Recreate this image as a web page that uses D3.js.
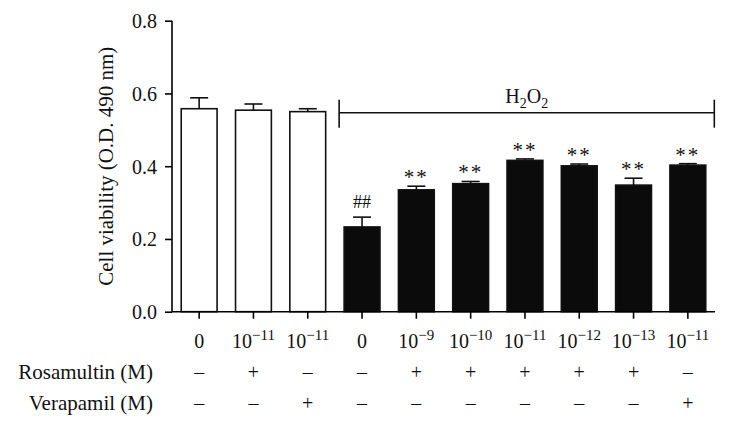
<!DOCTYPE html>
<html>
<head>
<meta charset="utf-8">
<script src="https://cdn.jsdelivr.net/npm/d3@7"></script>
<style>
  body { margin: 0; background: #fff; }
  svg text { font-family: "Liberation Serif", "DejaVu Serif", serif; fill: #111; }
</style>
</head>
<body>
<div id="chart"></div>
<script>
// concentration labels: [base, exponent] (exponent null -> plain text)
var concLabels = [["0", null], ["10", "\u221211"], ["10", "\u221211"], ["0", null], ["10", "\u22129"],
                  ["10", "\u221210"], ["10", "\u221211"], ["10", "\u221212"], ["10", "\u221213"], ["10", "\u221211"]];
var means  = [0.558, 0.554, 0.550, 0.233, 0.335, 0.352, 0.416, 0.401, 0.348, 0.403];
var errs   = [0.030, 0.017, 0.008, 0.027, 0.010, 0.006, 0.004, 0.005, 0.019, 0.004];
var h2o2   = [false, false, false, true, true, true, true, true, true, true];
var marks  = ["", "", "", "##", "**", "**", "**", "**", "**", "**"];
var rosamultin = ["\u2013", "+", "\u2013", "\u2013", "+", "+", "+", "+", "+", "\u2013"];
var verapamil  = ["\u2013", "\u2013", "+", "\u2013", "\u2013", "\u2013", "\u2013", "\u2013", "\u2013", "+"];
var yTicks = [0, 0.2, 0.4, 0.6, 0.8];

var W = 729, H = 426;
var margin = {left: 172, right: 14, top: 20.7, bottom: 114.3};

var svg = d3.select("#chart").append("svg")
  .attr("width", W).attr("height", H);

var idx = d3.range(means.length);
var x = d3.scaleBand().domain(idx).range([margin.left, W - margin.right])
  .paddingInner(0.34).paddingOuter(0.17);
var y = d3.scaleLinear().domain([0, 0.8]).range([H - margin.bottom, margin.top]);

// bars
svg.append("g").selectAll("rect").data(idx).enter().append("rect")
  .attr("x", function(i){ return x(i); })
  .attr("y", function(i){ return y(means[i]); })
  .attr("width", x.bandwidth())
  .attr("height", function(i){ return y(0) - y(means[i]); })
  .attr("fill", function(i){ return h2o2[i] ? "#0b0b0b" : "#fff"; })
  .attr("stroke", "#111").attr("stroke-width", 1.6);

// error bars (upper only)
var eb = svg.append("g").attr("stroke", "#111").attr("stroke-width", 1.6);
idx.forEach(function(i){
  var cx = x(i) + x.bandwidth() / 2;
  eb.append("line").attr("x1", cx).attr("x2", cx)
    .attr("y1", y(means[i])).attr("y2", y(means[i] + errs[i]));
  eb.append("line").attr("x1", cx - 9).attr("x2", cx + 9)
    .attr("y1", y(means[i] + errs[i])).attr("y2", y(means[i] + errs[i]));
});

// significance marks
svg.append("g").selectAll("text").data(idx.filter(function(i){ return marks[i]; })).enter()
  .append("text")
  .attr("x", function(i){ return x(i) + x.bandwidth() / 2; })
  .attr("y", function(i){ return y(means[i] + errs[i]) - (marks[i] == "##" ? 9 : 2); })
  .attr("text-anchor", "middle")
  .style("font-size", function(i){ return marks[i] == "##" ? "18px" : "21px"; })
  .style("letter-spacing", function(i){ return marks[i] == "##" ? "0px" : "2px"; })
  .text(function(i){ return marks[i]; });

// y axis
var yAxis = svg.append("g")
  .attr("transform", "translate(" + margin.left + ",0)")
  .call(d3.axisLeft(y).tickValues(yTicks).tickFormat(d3.format(".1f")).tickSize(7).tickPadding(8));
yAxis.select(".domain").attr("stroke-width", 1.6).attr("d", "M0," + y(0.8) + "V" + y(0));
yAxis.selectAll(".tick line").attr("stroke-width", 1.6);
yAxis.selectAll("text").style("font-size", "20px").attr("dy", "0.34em");

// x axis
var xAxis = svg.append("g")
  .attr("transform", "translate(0," + y(0) + ")")
  .call(d3.axisBottom(x).tickSize(7).tickFormat(""));
xAxis.select(".domain").attr("stroke-width", 1.6).attr("d", "M" + margin.left + ",0H" + (W - margin.right));
xAxis.selectAll(".tick line").attr("stroke-width", 1.6);

// concentration row
var conc = svg.append("g").selectAll("text").data(idx).enter().append("text")
  .attr("x", function(i){ return x(i) + x.bandwidth() / 2; })
  .attr("y", 348)
  .attr("text-anchor", "middle")
  .style("font-size", "20px");
conc.append("tspan").text(function(i){ return concLabels[i][0]; });
conc.filter(function(i){ return concLabels[i][1]; }).append("tspan")
  .attr("dy", -8).style("font-size", "15px")
  .text(function(i){ return concLabels[i][1]; });

// treatment rows
function signRow(vals, label, yy) {
  svg.append("text").attr("x", 153).attr("y", yy).attr("text-anchor", "end")
    .style("font-size", "21px").text(label);
  svg.append("g").selectAll("text").data(idx).enter().append("text")
    .attr("x", function(i){ return x(i) + x.bandwidth() / 2; })
    .attr("y", yy)
    .attr("text-anchor", "middle")
    .style("font-size", "20px")
    .text(function(i){ return vals[i]; });
}
signRow(rosamultin, "Rosamultin (M)", 379);
signRow(verapamil, "Verapamil (M)", 410);

// y label
svg.append("text")
  .attr("transform", "translate(113," + ((y(0) + y(0.8)) / 2) + ") rotate(-90)")
  .attr("text-anchor", "middle")
  .style("font-size", "21px")
  .text("Cell viability (O.D. 490 nm)");

// H2O2 bracket
var bx1 = x(3) - 5, bx2 = W - margin.right - 0.7, by = 112.7;
var br = svg.append("g").attr("stroke", "#111").attr("stroke-width", 1.6);
br.append("line").attr("x1", bx1).attr("x2", bx2).attr("y1", by).attr("y2", by);
br.append("line").attr("x1", bx1).attr("x2", bx1).attr("y1", by - 13).attr("y2", by + 15);
br.append("line").attr("x1", bx2).attr("x2", bx2).attr("y1", by - 13).attr("y2", by + 15);
var ht = svg.append("text").attr("x", (bx1 + bx2) / 2).attr("y", 103)
  .attr("text-anchor", "middle").style("font-size", "20px");
ht.append("tspan").text("H");
ht.append("tspan").attr("dy", 5).style("font-size", "14px").text("2");
ht.append("tspan").attr("dy", -5).text("O");
ht.append("tspan").attr("dy", 5).style("font-size", "14px").text("2");
</script>
</body>
</html>
